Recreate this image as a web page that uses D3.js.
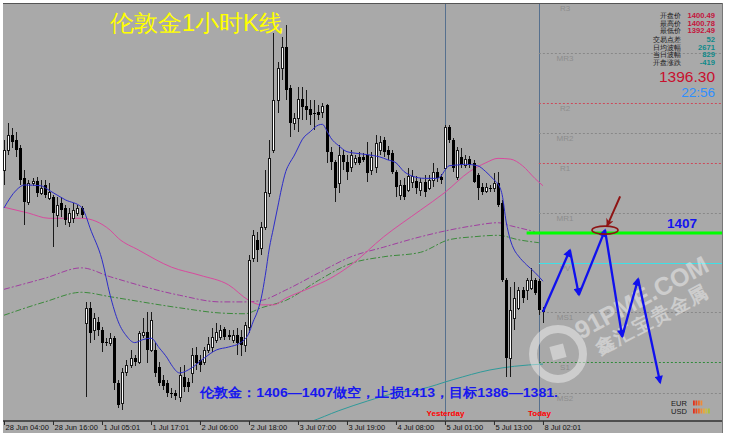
<!DOCTYPE html>
<html>
<head>
<meta charset="utf-8">
<script src="https://cdn.jsdelivr.net/npm/d3@7/dist/d3.min.js"></script>
<style>
html,body{margin:0;padding:0;background:#ffffff;}
svg{display:block;}
text{font-family:"Liberation Sans",Arial,sans-serif;}
</style>
</head>
<body>
<svg id="chart" width="729" height="439"></svg>
<script>
// ---------- DATA (XAUUSD, H1) ----------
const open = [1415.5,1418.2,1420.3,1419.6,1418.5,1414.5,1411.2,1413.8,1414.1,1412.4,1413.5,1411.8,1411.9,1409.5,1411.1,1410.4,1408.5,1409.1,1409.7,1410.4,
1394.9,1396.9,1393.9,1395.0,1393.9,1392.3,1392.2,1392.8,1386.8,1384.1,1388.2,1389.2,1390.1,1389.6,1393.2,1393.7,1391.2,1391.2,1388.9,1387.2,
1386.8,1385.4,1385.4,1384.9,1387.6,1386.9,1388.1,1390.5,1389.9,1389.6,1391.2,1391.6,1392.6,1393.0,1394.1,1393.2,1392.6,1393.2,1393.0,1391.9,
1394.3,1403.6,1406.1,1405.0,1407.8,1412.4,1418.2,1425.0,1429.3,1432.2,1426.6,1421.9,1422.6,1425.1,1424.2,1423.8,1423.2,1423.4,1423.4,1424.3,
1418.0,1416.6,1413.8,1417.6,1416.6,1415.9,1416.6,1417.3,1417.3,1417.6,1415.5,1415.9,1418.2,1419.6,1418.2,1417.8,1415.3,1412.2,1413.5,1412.8,
1413.9,1414.0,1412.8,1413.9,1413.1,1414.2,1415.3,1414.6,1415.8,1421.3,1419.6,1414.6,1417.3,1416.2,1417.0,1416.5,1414.9,1413.2,1412.7,1413.1,
1413.1,1413.8,1411.1,1400.7,1390.1,1395.5,1396.9,1399.3,1399.3,1399.6,1400.7,1400.5,1396.6];
const high = [1419.6,1421.9,1421.2,1420.7,1418.9,1415.5,1414.2,1414.5,1414.6,1414.2,1414.2,1413.8,1412.2,1411.9,1411.9,1410.8,1410.4,1411.1,1410.8,1410.7,
1397.7,1397.7,1396.2,1395.7,1394.3,1392.8,1393.5,1393.1,1387.2,1388.8,1389.9,1391.2,1390.5,1393.8,1395.5,1396.4,1396.4,1392.2,1389.6,1387.8,
1387.2,1386.0,1385.8,1388.9,1389.2,1387.4,1391.5,1391.6,1390.5,1391.6,1393.0,1394.2,1394.9,1394.6,1394.3,1393.9,1393.9,1394.2,1393.9,1395.0,
1404.1,1407.4,1407.2,1408.5,1415.5,1419.6,1434.0,1430.1,1433.5,1435.1,1427.0,1423.2,1426.8,1426.8,1426.3,1425.0,1425.0,1424.3,1424.6,1424.5,
1418.6,1416.9,1418.9,1418.2,1417.6,1418.2,1417.6,1418.0,1417.8,1419.3,1418.0,1420.3,1420.1,1420.0,1418.8,1418.2,1415.5,1414.2,1414.5,1415.8,
1415.5,1414.7,1414.5,1414.9,1414.9,1416.5,1415.8,1415.0,1421.6,1421.6,1419.9,1418.6,1418.5,1417.6,1417.4,1416.9,1415.1,1413.8,1413.8,1413.5,
1415.1,1415.3,1411.5,1400.9,1399.7,1400.4,1399.7,1399.7,1400.9,1402.3,1400.9,1400.8,1397.0];
const low = [1413.5,1417.6,1418.5,1417.3,1413.5,1408.1,1410.8,1413.4,1411.9,1412.2,1411.8,1411.5,1405.1,1407.8,1409.2,1408.1,1407.8,1408.4,1409.3,1409.1,
1384.9,1392.2,1392.6,1393.1,1390.9,1391.8,1391.8,1385.8,1383.4,1383.1,1387.7,1388.8,1389.1,1389.3,1392.8,1389.5,1390.9,1387.6,1386.4,1385.8,
1384.9,1384.7,1384.5,1384.2,1385.5,1385.5,1386.8,1388.5,1388.2,1389.2,1390.8,1390.9,1392.2,1392.6,1392.6,1392.6,1392.2,1390.5,1390.4,1390.9,
1393.5,1403.1,1403.1,1404.1,1407.4,1411.9,1417.8,1423.2,1427.7,1425.0,1420.0,1420.9,1420.7,1422.3,1422.3,1421.6,1420.9,1422.3,1422.6,1416.5,
1415.5,1411.2,1412.4,1415.5,1414.2,1415.3,1416.2,1416.2,1416.6,1413.9,1414.9,1415.1,1417.6,1417.3,1416.9,1415.0,1411.9,1411.5,1411.5,1412.6,
1413.1,1412.3,1412.0,1411.9,1412.8,1413.2,1413.9,1413.6,1415.5,1419.2,1415.3,1414.2,1415.8,1415.8,1415.8,1413.8,1411.5,1412.2,1412.4,1412.6,
1412.6,1410.5,1400.4,1387.6,1387.6,1393.9,1396.6,1397.6,1398.0,1399.3,1398.7,1395.9,1394.9];
const close = [1418.2,1420.3,1419.3,1418.2,1414.2,1411.2,1413.8,1414.1,1412.4,1413.1,1412.2,1412.6,1409.7,1410.8,1410.1,1408.8,1409.7,1410.1,1410.4,1409.5,
1396.9,1393.5,1395.5,1393.9,1392.2,1392.2,1392.8,1386.8,1383.8,1388.2,1389.2,1390.1,1389.6,1393.5,1393.7,1391.2,1395.3,1388.1,1386.8,1386.4,
1385.4,1385.3,1385.0,1387.8,1386.2,1386.2,1390.5,1389.5,1389.2,1391.2,1392.0,1393.0,1393.7,1393.9,1393.0,1393.0,1393.2,1392.2,1391.9,1394.6,
1403.4,1406.8,1404.7,1407.8,1412.6,1417.2,1425.0,1429.3,1432.2,1426.3,1421.9,1422.6,1425.1,1424.0,1423.6,1423.0,1423.1,1423.0,1424.2,1418.0,
1416.6,1413.1,1417.6,1416.6,1415.3,1417.6,1417.2,1416.5,1416.9,1415.1,1417.3,1419.2,1419.3,1418.0,1417.6,1415.3,1413.2,1413.5,1411.9,1414.7,
1414.7,1413.1,1413.9,1412.6,1414.2,1415.3,1414.5,1414.2,1421.3,1419.6,1415.8,1418.2,1416.2,1417.0,1416.2,1413.9,1413.1,1412.6,1413.2,1413.0,
1413.8,1410.8,1400.7,1390.1,1396.6,1398.2,1399.3,1398.2,1400.7,1400.7,1398.9,1396.6,1396.3];

// moving averages: [bar index, price]
const maBlue = [[0,1410.4],[3,1412.8],[5,1413.5],[9,1413.4],[11,1412.8],[15,1411.5],[19,1410.5],[20,1409.4],[21,1407.8],[24,1403.4],[26,1398.6],[28,1395.0],[30,1393.1],[32,1392.2],[34,1392.6],[36,1392.8],[38,1391.5],[40,1390.1],[41,1389.2],[43,1388.1],[46,1388.8],[49,1390.1],[52,1391.2],[55,1391.6],[58,1392.2],[60,1393.5],[61,1395.0],[62,1396.3],[63,1398.2],[64,1401.3],[65,1405.0],[66,1407.7],[67,1410.4],[68,1413.1],[69,1415.3],[70,1416.5],[71,1417.4],[72,1418.5],[73,1419.6],[75,1420.7],[77,1421.6],[78,1421.7],[79,1420.9],[80,1419.9],[82,1418.8],[84,1418.0],[86,1417.8],[89,1417.6],[92,1417.3],[94,1416.9],[96,1416.5],[98,1415.3],[100,1414.7],[103,1414.4],[106,1414.4],[107,1414.7],[108,1415.5],[109,1416.1],[111,1416.2],[113,1416.3],[116,1416.1],[118,1415.3],[120,1414.2],[121,1413.6],[122,1412.2],[123,1408.5],[124,1406.1],[125,1404.7],[126,1403.9],[128,1402.7],[130,1401.7],[132,1400.5]];
const maPink = [[0,1410.5],[6,1409.7],[11,1409.0],[19,1409.0],[26,1407.4],[28,1406.3],[33,1404.7],[41,1402.4],[48,1401.3],[55,1400.0],[60,1397.9],[63,1397.3],[66,1397.3],[69,1398.2],[75,1399.6],[80,1400.9],[85,1402.7],[93,1406.5],[102,1410.1],[108,1412.5],[114,1415.3],[118,1416.5],[121,1417.1],[124,1417.0],[127,1416.1],[130,1414.4],[132,1413.4]];
const maPurple = [[0,1399.4],[10,1400.9],[19,1402.3],[26,1401.1],[43,1398.6],[53,1397.7],[59,1397.7],[63,1397.9],[69,1399.3],[77,1401.6],[85,1403.8],[93,1405.1],[102,1406.5],[109,1407.4],[115,1408.0],[121,1408.4],[124,1408.0],[130,1407.2]];
const maGreen = [[0,1395.9],[10,1397.7],[19,1399.0],[26,1398.4],[43,1396.9],[53,1396.2],[59,1396.1],[63,1396.9],[69,1397.9],[77,1400.6],[85,1402.9],[93,1403.8],[102,1404.4],[109,1406.1],[115,1406.5],[121,1406.7],[126,1406.1],[131,1405.7]];
const maTeal = [[70,1380.7],[75,1381.5],[82,1383.0],[89,1384.3],[96,1385.4],[102,1385.9],[110,1387.2],[119,1388.5],[125,1389.0],[132,1389.3]];

const tickIdx = [0,12,24,36,48,60,72,84,96,108,120,132];
const tickLabels = ["28 Jun 04:00","28 Jun 16:00","1 Jul 05:01","1 Jul 17:01","2 Jul 06:00","2 Jul 18:00","3 Jul 07:00","3 Jul 19:00","4 Jul 08:00","5 Jul 01:00","5 Jul 13:00","8 Jul 02:01"];
const sepIdx = [108,131];
const sepLabels = ["Yesterday","Today"];

const pivotNames = ["R3","MR3","R2","MR2","R1","MR1","PV","MS1","S1","MS2"];
const pivotValues = [1438.1,1431.3,1424.6,1420.5,1416.5,1409.7,1403.0,1396.35,1389.6,1385.4];

const entryLevel = 1407;
const entryStartIdx = 128;
const forecast = [[132,1396.35],[138.6,1404.7],[140.8,1398.65],[147.2,1407.4],[151.4,1393.0],[155.3,1400.8],[160.7,1386.8]];
const circleAt = [147.2,1407.4];
const redArrow = [[150.9,1411.95],[147.7,1407.95]];

const infoLabels = ["开盘价","最高价","最低价","交易点差","日均波幅","当日波幅","开盘涨跌"];
const infoValues = ["1400.49","1400.78","1392.49","52","2671","829","-419"];
const lastPrice = "1396.30";
const lastTime = "22:56";
const titleText = "伦敦金1小时K线";
const noteText = "伦敦金：1406—1407做空，止损1413，目标1386—1381.";
const strengthNames = ["EUR","USD"];
const strengthColors = [["#e2321e","#e44a22","#ea6a2c","#f08a38"],["#e2321e","#e44a22","#ea6a2c","#f08a38","#e8a83c","#cfbf40","#a9c13e"]];

// ---------- DRAW ----------
const svg = d3.select("#chart");
const x = d3.scaleLinear().domain([0,176]).range([4, 4+176*4.083]);
const y = d3.scaleLinear().domain([1438.5,1381.74]).range([0,420]);
const PX0=3, PX1=722, PY0=3, PY1=421;

const defs = svg.append("defs");
defs.append("clipPath").attr("id","plot").append("rect").attr("x",PX0).attr("y",PY0).attr("width",PX1-PX0).attr("height",PY1-PY0);
defs.append("marker").attr("id","ahBlue").attr("viewBox","0 0 10 10").attr("refX",8).attr("refY",5)
  .attr("markerWidth",4).attr("markerHeight",3.6).attr("orient","auto")
  .append("path").attr("d","M0,0L10,5L0,10z").attr("fill","#1010ee");
defs.append("marker").attr("id","ahRed").attr("viewBox","0 0 10 10").attr("refX",9).attr("refY",5)
  .attr("markerWidth",5).attr("markerHeight",4).attr("orient","auto")
  .append("path").attr("d","M0,0L10,5L0,10L3,5z").attr("fill","#8e1414");

svg.append("rect").attr("x",PX0).attr("y",PY0).attr("width",PX1-PX0).attr("height",433-PY0).attr("fill","#a9a9a9");

const g = svg.append("g").attr("clip-path","url(#plot)");

// period separators
g.selectAll("line.sep").data(sepIdx).join("line")
  .attr("x1",d=>Math.round(x(d))+0.5).attr("x2",d=>Math.round(x(d))+0.5)
  .attr("y1",PY0).attr("y2",PY1).attr("stroke","#56708e").attr("stroke-width",1);

// pivot levels
function pivStyle(n){
  if(n==="PV") return {c:"#3fe0e6",d:null};
  if(n[0]==="R") return {c:"#cc4a5a",d:"2,2"};
  if(n[0]==="S") return {c:"#2f8a3a",d:"2,2"};
  return {c:"#888888",d:"2,2"};
}
const xp0 = x(131);
pivotNames.forEach((n,i)=>{
  const st = pivStyle(n);
  const yy = Math.round(y(pivotValues[i]))+0.5;
  g.append("line").attr("x1",xp0).attr("x2",PX1).attr("y1",yy).attr("y2",yy)
    .attr("stroke",st.c).attr("stroke-width",1).attr("stroke-dasharray",st.d);
  g.append("text").attr("x",565).attr("y",yy+7.5).attr("text-anchor","middle")
    .attr("font-size",8).attr("fill","#8d8d8d").text(n);
});

// moving averages
const line = d3.line().x(d=>x(d[0])).y(d=>y(d[1])).curve(d3.curveMonotoneX);
g.append("path").datum(maTeal).attr("d",line).attr("fill","none").attr("stroke","#2f9a9a").attr("stroke-width",1);
g.append("path").datum(maGreen).attr("d",line).attr("fill","none").attr("stroke","#3c8a3c").attr("stroke-width",1).attr("stroke-dasharray","6,2,2,2");
g.append("path").datum(maPurple).attr("d",line).attr("fill","none").attr("stroke","#a03ea0").attr("stroke-width",1).attr("stroke-dasharray","6,2,2,2");
g.append("path").datum(maPink).attr("d",line).attr("fill","none").attr("stroke","#d84a9e").attr("stroke-width",1);

// candles
const bars = open.map((o,i)=>({i,o,h:high[i],l:low[i],c:close[i]}));
const cg = g.append("g");
cg.selectAll("line.wick").data(bars).join("line")
  .attr("x1",d=>Math.round(x(d.i))+0.5).attr("x2",d=>Math.round(x(d.i))+0.5)
  .attr("y1",d=>Math.round(y(d.h))).attr("y2",d=>Math.round(y(d.l)))
  .attr("stroke","#1a1a1a").attr("stroke-width",1);
cg.selectAll("rect.body").data(bars).join("rect")
  .attr("x",d=>d.c>=d.o ? Math.round(x(d.i))-0.5 : Math.round(x(d.i))-1)
  .attr("width",d=>d.c>=d.o ? 2 : 3)
  .attr("y",d=>{const t=Math.round(y(Math.max(d.o,d.c))); return d.c>=d.o ? t+0.5 : t;})
  .attr("height",d=>Math.max(1,Math.round(y(Math.min(d.o,d.c)))-Math.round(y(Math.max(d.o,d.c)))))
  .attr("fill",d=>d.c>=d.o ? "#ffffff" : "#000000")
  .attr("stroke",d=>d.c>=d.o ? "#1a1a1a" : "none").attr("stroke-width",1);

g.append("path").datum(maBlue).attr("d",line).attr("fill","none").attr("stroke","#2c2cc8").attr("stroke-width",1);

// entry level
g.append("line").attr("x1",x(entryStartIdx)).attr("x2",PX1).attr("y1",y(entryLevel)).attr("y2",y(entryLevel))
  .attr("stroke","#00ff00").attr("stroke-width",3);
svg.append("text").attr("x",667).attr("y",228).attr("font-size",13.5).attr("font-weight","bold")
  .attr("fill","#1414f0").text(String(entryLevel));

// watermark
const wm = svg.append("g").attr("opacity",0.42);
wm.append("circle").attr("cx",558).attr("cy",354).attr("r",25).attr("fill","none").attr("stroke","#ffffff").attr("stroke-width",8);
wm.append("rect").attr("x",551).attr("y",345).attr("width",14).attr("height",14).attr("fill","#ffffff")
  .attr("transform","rotate(-15,558,352)");
wm.append("text").attr("x",642).attr("y",306).attr("text-anchor","middle").attr("font-size",25).attr("font-weight","bold")
  .attr("fill","#ffffff").attr("transform","rotate(-28,642,298)").text("91PME.COM");
wm.append("text").attr("x",652).attr("y",326).attr("text-anchor","middle").attr("font-size",19).attr("font-weight","bold")
  .attr("font-family","Noto Sans CJK SC").attr("fill","#ffffff").attr("letter-spacing",2)
  .attr("transform","rotate(-28,652,319)").text("鑫汇宝贵金属");

// forecast zigzag
for(let k=1;k<forecast.length;k++){
  svg.append("line").attr("x1",x(forecast[k-1][0])).attr("y1",y(forecast[k-1][1]))
    .attr("x2",x(forecast[k][0])).attr("y2",y(forecast[k][1]))
    .attr("stroke","#1010ee").attr("stroke-width",2.3).attr("marker-end","url(#ahBlue)");
}
svg.append("ellipse").attr("cx",x(circleAt[0])).attr("cy",y(circleAt[1])).attr("rx",13).attr("ry",4)
  .attr("fill","none").attr("stroke","#8e1414").attr("stroke-width",1.6);
svg.append("line").attr("x1",x(redArrow[0][0])).attr("y1",y(redArrow[0][1]))
  .attr("x2",x(redArrow[1][0])).attr("y2",y(redArrow[1][1]))
  .attr("stroke","#8e1414").attr("stroke-width",2).attr("marker-end","url(#ahRed)");

// axis
svg.append("line").attr("x1",PX0).attr("x2",PX1).attr("y1",421).attr("y2",421).attr("stroke","#4e4e4e").attr("stroke-width",2);
const ax = svg.append("g").attr("transform","translate(0,421)")
  .call(d3.axisBottom(x).tickValues(tickIdx).tickFormat((d,i)=>tickLabels[i]).tickSize(4).tickPadding(0));
ax.select(".domain").remove();
ax.selectAll(".tick line").attr("stroke","#2a2a2a");
ax.selectAll(".tick text").attr("text-anchor","start").attr("x",1)
  .attr("font-family","Liberation Sans, Arial, sans-serif").attr("font-size",7.5).attr("fill","#111");
svg.append("line").attr("x1",PX0).attr("x2",PX1).attr("y1",3.5).attr("y2",3.5).attr("stroke","#555").attr("stroke-width",1);
svg.append("line").attr("x1",PX1+0.5).attr("x2",PX1+0.5).attr("y1",3).attr("y2",433).attr("stroke","#777").attr("stroke-width",1);

// separator labels
sepIdx.forEach((d,i)=>{
  svg.append("text").attr("x",Math.round(x(d))+0.5).attr("y",416).attr("text-anchor","middle")
    .attr("font-size",8).attr("font-weight","bold").attr("fill","#ff0000").text(sepLabels[i]);
});

// title
svg.append("text").attr("x",110).attr("y",31).attr("font-family","Noto Sans CJK SC").attr("font-size",23)
  .attr("fill","#ffff00").attr("textLength",173).attr("lengthAdjust","spacingAndGlyphs").text(titleText);

// note
svg.append("text").attr("x",200).attr("y",397).attr("font-family","Noto Sans CJK SC").attr("font-size",13)
  .attr("font-weight","bold").attr("fill","#1818ee").attr("textLength",358).attr("lengthAdjust","spacingAndGlyphs").text(noteText);

// info panel
const rowY = [18,25.5,33,42,49.5,57,64.5];
infoLabels.forEach((t,i)=>{
  svg.append("text").attr("x",681).attr("y",rowY[i]).attr("text-anchor","end")
    .attr("font-family","Noto Sans CJK SC").attr("font-size",6.8).attr("fill","#151515").text(t);
  svg.append("text").attr("x",715).attr("y",rowY[i]).attr("text-anchor","end")
    .attr("font-size",7.6).attr("font-weight","bold").attr("fill", i<3 ? "#c4143c" : "#0f8a8a").text(infoValues[i]);
});
svg.append("text").attr("x",715).attr("y",82).attr("text-anchor","end").attr("font-size",15.5).attr("fill","#c8102e").text(lastPrice);
svg.append("text").attr("x",715).attr("y",97).attr("text-anchor","end").attr("font-size",13.5).attr("fill","#2f8fff").text(lastTime);

// currency strength
strengthNames.forEach((n,i)=>{
  const yy = 406 + i*8;
  svg.append("text").attr("x",671).attr("y",yy).attr("font-size",7.5).attr("fill","#1a1a1a").text(n);
  strengthColors[i].forEach((c,j)=>{
    svg.append("rect").attr("x",693+j*2.5).attr("y",yy-5.5).attr("width",1.8).attr("height",5).attr("fill",c);
  });
});
</script>
</body>
</html>
